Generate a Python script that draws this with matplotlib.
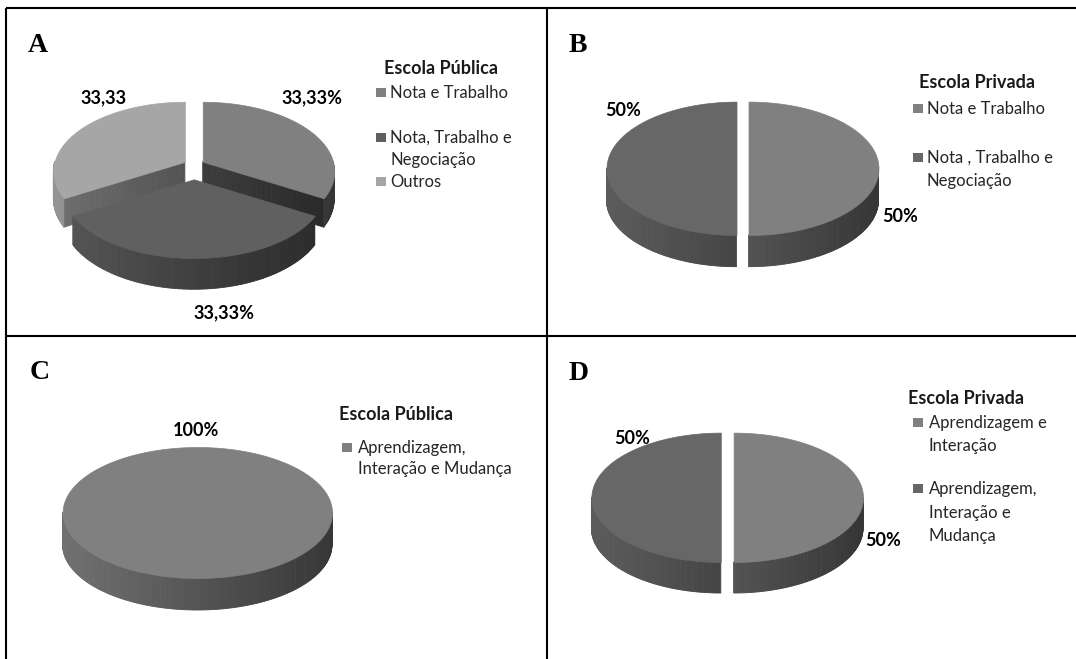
import numpy as np
import matplotlib.pyplot as plt
from matplotlib.collections import PolyCollection
from matplotlib.patches import Rectangle
from matplotlib.colors import to_rgb

plt.rcParams['font.family'] = ['Lato', 'DejaVu Sans']

# Dados dos quatro gráficos (fatias no sentido horário a partir das 12h)
cat_a = ["Nota e Trabalho", "Nota, Trabalho e\nNegociação", "Outros"]
val_a = [33.33, 33.33, 33.33]
rot_a = ["33,33%", "33,33%", "33,33"]

cat_b = ["Nota e Trabalho", "Nota , Trabalho e\nNegociação"]
val_b = [50, 50]
rot_b = ["50%", "50%"]

cat_c = ["Aprendizagem,\nInteração e Mudança"]
val_c = [100]
rot_c = ["100%"]

cat_d = ["Aprendizagem e\nInteração", "Aprendizagem,\nInteração e\nMudança"]
val_d = [50, 50]
rot_d = ["50%", "50%"]

titulos = ["Escola Pública", "Escola Privada", "Escola Pública", "Escola Privada"]
letras = ["A", "B", "C", "D"]

# Cores das fatias
cores_a = ["#808080", "#606060", "#a6a6a6"]
cores_b = ["#808080", "#676767"]
cores_c = ["#808080"]
cores_d = ["#808080", "#676767"]

# Geometria de cada pizza em pixels (centro, raios, espessura, destaque, perspectiva)
geo = [
    dict(cx=193.8, cy=167.6, rx=130.3, ry=68.1, prof=27, ex=10.3, ey=11.7, k=0.135),
    dict(cx=742.5, cy=168.3, rx=130.0, ry=66.7, prof=31.7, ex=6.0, ey=0.0, k=0.0),
    dict(cx=197.3, cy=512.5, rx=134.7, ry=65.5, prof=32, ex=0.0, ey=0.0, k=0.0),
    dict(cx=727.2, cy=497.3, rx=129.4, ry=64.7, prof=31, ex=6.4, ey=0.0, k=0.0),
]

# Posições dos rótulos de valor (centro do texto)
pos_rot = [
    [(312, 97), (224, 312), (104, 97)],
    [(900, 215), (623, 110)],
    [(195.5, 430)],
    [(883, 540), (632, 437)],
]

# Legendas: título (x, y), x do quadrado, x do texto, y de cada linha por item
leg = [
    dict(tit=(384, 68), mx=376, tx=390, linhas=[[92], [137, 159], [181]]),
    dict(tit=(919, 82), mx=913, tx=927, linhas=[[108], [157, 180]]),
    dict(tit=(339, 413), mx=342, tx=358, linhas=[[447, 468]]),
    dict(tit=(908, 398), mx=913, tx=929, linhas=[[422, 445], [488, 512, 535]]),
]

pos_letra = [(28, 52), (569, 52), (30, 379), (569, 380)]

W, H = 1076, 659
fig = plt.figure(figsize=(W / 100, H / 100), dpi=100)
ax = fig.add_axes([0, 0, 1, 1])
ax.set_xlim(0, W)
ax.set_ylim(H, 0)
ax.axis('off')

# Moldura dos quadros
for xs, ys in [((6, W), (8, 8)), ((6, 6), (8, H)), ((547, 547), (8, H)), ((6, W), (336, 336))]:
    ax.plot(xs, ys, color='black', lw=1.5, solid_capstyle='butt')


def ponto(g, r, t, h, dx, dy):
    u, v = r * np.cos(t), r * np.sin(t)
    w = 1.0 / (1.0 + g["k"] * v)
    x = g["cx"] + g["rx"] * u * w + dx
    y = g["cy"] - g["ry"] * v * w + g["prof"] * h * w + dy
    return x, y


def sombra(x, g):
    s = (x - (g["cx"] - g["rx"])) / (2 * g["rx"])
    return float(np.clip(0.88 - 0.45 * s, 0.4, 0.95))


def tom(cor, f):
    r, gg, b = to_rgb(cor)
    return (r * f, gg * f, b * f)


def faixas(polis, g, cor, extra=1.0):
    cols = [tom(cor, sombra(np.mean(p[:, 0]), g) * extra) for p in polis]
    ax.add_collection(PolyCollection(polis, facecolors=cols, edgecolors=cols, linewidths=0.6))


def fatia(g, t1, t2, cor, cheia):
    m = 0.5 * (t1 + t2)
    dx, dy = g["ex"] * np.cos(m), -g["ey"] * np.sin(m)
    # paredes radiais
    if not cheia:
        for t, vis in [(t1, np.cos(t1) > 1e-6), (t2, np.cos(t2) < -1e-6)]:
            if vis:
                rr = np.linspace(0, 1, 25)
                polis = []
                for a, b in zip(rr[:-1], rr[1:]):
                    p = [ponto(g, a, t, 0, dx, dy), ponto(g, b, t, 0, dx, dy),
                         ponto(g, b, t, 1, dx, dy), ponto(g, a, t, 1, dx, dy)]
                    polis.append(np.array(p))
                faixas(polis, g, cor, 0.75)
    # lateral externa (apenas a parte da frente)
    n = max(int(np.degrees(t2 - t1)), 2)
    tt = np.linspace(t1, t2, n + 1)
    polis = []
    for a, b in zip(tt[:-1], tt[1:]):
        if np.sin(0.5 * (a + b)) < 0:
            p = [ponto(g, 1, a, 0, dx, dy), ponto(g, 1, b, 0, dx, dy),
                 ponto(g, 1, b, 1, dx, dy), ponto(g, 1, a, 1, dx, dy)]
            polis.append(np.array(p))
    if polis:
        faixas(polis, g, cor)
    # topo
    xs, ys = ponto(g, 1, tt, 0, dx, dy)
    topo = np.column_stack([xs, ys])
    if not cheia:
        topo = np.vstack([ponto(g, 0, 0, 0, dx, dy), topo])
    ax.add_collection(PolyCollection([topo], facecolors=[cor], edgecolors=[cor], linewidths=0.5))


def pizza(g, valores, cores):
    v = np.asarray(valores, dtype=float)
    acum = np.concatenate([[0], np.cumsum(v) / v.sum()])
    ang = np.radians(90 - 360 * acum)
    fatias = [(ang[i + 1], ang[i], cores[i]) for i in range(len(v))]
    # desenha do fundo para a frente
    fatias.sort(key=lambda f: -np.sin(0.5 * (f[0] + f[1])))
    for t1, t2, cor in fatias:
        fatia(g, t1, t2, cor, len(v) == 1)


dados = [(val_a, cores_a, rot_a, cat_a), (val_b, cores_b, rot_b, cat_b),
         (val_c, cores_c, rot_c, cat_c), (val_d, cores_d, rot_d, cat_d)]

for i, (vals, cores, rots, cats) in enumerate(dados):
    pizza(geo[i], vals, cores)
    for (x, y), txt in zip(pos_rot[i], rots):
        ax.text(x, y + 6.5, txt, ha='center', va='baseline', fontsize=13,
                fontweight='bold', color='black')
    lx, ly = pos_letra[i]
    ax.text(lx, ly, letras[i], ha='left', va='baseline', fontsize=20,
            fontweight='bold', family='Liberation Serif', color='black')
    L = leg[i]
    ax.text(L["tit"][0], L["tit"][1] + 6.5, titulos[i], ha='left', va='baseline',
            fontsize=13, fontweight='bold', color='#1a1a1a')
    for cat, cor, ys in zip(cats, cores, L["linhas"]):
        ax.add_patch(Rectangle((L["mx"], ys[0] - 4.5), 9.5, 9.5, facecolor=cor,
                               edgecolor='none'))
        for linha, y in zip(cat.split("\n"), ys):
            ax.text(L["tx"], y + 6, linha, ha='left', va='baseline', fontsize=12,
                    color='#262626')

fig.savefig('out.png', dpi=100)
